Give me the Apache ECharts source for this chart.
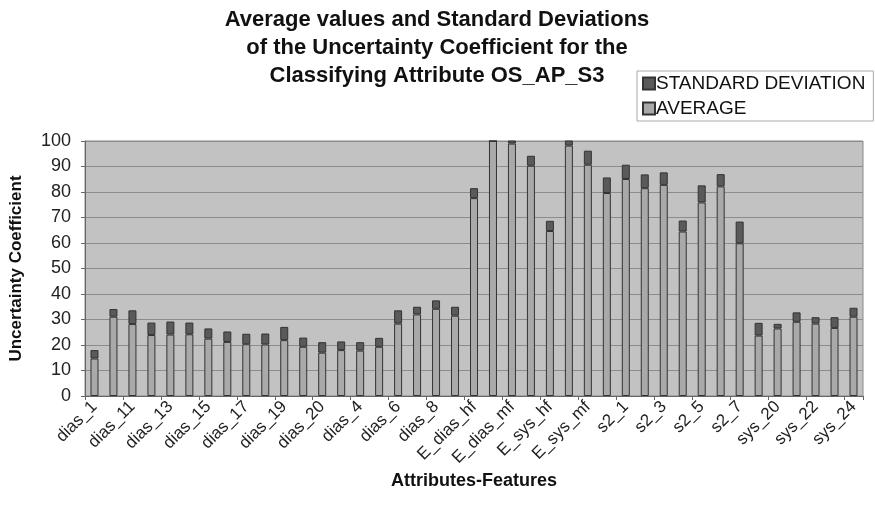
<!DOCTYPE html>
<html>
<head>
<meta charset="utf-8">
<script src="https://cdn.jsdelivr.net/npm/echarts@6/dist/echarts.min.js"></script>
<style>
  html, body { margin: 0; padding: 0; background: #fff; }
  #chart_div { width: 875px; height: 519px; }
</style>
</head>
<body>
<div id="chart_div"></div>
<script>
// attribute names (only every other one is printed on the axis)
var attrs = ['dias_1','dias_10','dias_11','dias_12','dias_13','dias_14','dias_15','dias_16','dias_17','dias_18',
             'dias_19','dias_2','dias_20','dias_3','dias_4','dias_5','dias_6','dias_7','dias_8','dias_9',
             'E_dias_hf','E_dias_lf','E_dias_mf','E_dias_vlf','E_sys_hf','E_sys_lf','E_sys_mf','E_sys_vlf',
             's2_1','s2_2','s2_3','s2_4','s2_5','s2_6','s2_7','s2_8',
             'sys_20','sys_21','sys_22','sys_23','sys_24'];

// average of the uncertainty coefficient
var avgVals = [14.7, 31.1, 28.2, 23.9, 24.1, 24.2, 22.5, 21.2, 20.3, 20.2,
               21.9, 19.3, 17.0, 18.0, 17.8, 19.3, 28.4, 32.0, 34.2, 31.5,
               77.6, 100, 99.0, 90.3, 64.7, 98.2, 90.7, 79.6,
               85.1, 81.5, 82.8, 64.5, 75.9, 82.2, 59.9, 23.7,
               26.5, 29.1, 28.4, 26.7, 31.1];

// standard deviation (stacked on top of the average)
var sdVals = [3.3, 3.0, 5.4, 4.9, 5.1, 4.6, 4.0, 4.1, 4.1, 4.3,
              5.2, 3.6, 4.1, 3.4, 3.3, 3.5, 5.2, 3.0, 3.3, 3.5,
              3.9, 0, 1.5, 3.9, 4.0, 2.5, 5.5, 6.1,
              5.6, 5.4, 4.9, 4.3, 6.7, 4.8, 8.5, 5.0,
              1.8, 3.7, 2.5, 4.2, 3.5];

var myChart = echarts.init(document.getElementById('chart_div'));

var option = {
    backgroundColor: '#ffffff',
    animation: false,
    title: {
        text: 'Average values and Standard Deviations\nof the Uncertainty Coefficient for the\nClassifying Attribute OS_AP_S3',
        left: 432,
        textAlign: 'center',
        top: 1,
        textStyle: {
            fontFamily: 'Liberation Sans',
            fontSize: 22,
            fontWeight: 'bold',
            lineHeight: 28,
            color: '#111'
        }
    },
    legend: {
        data: ['STANDARD DEVIATION', 'AVERAGE'],
        orient: 'vertical',
        left: 637,
        top: 71,
        itemWidth: 12,
        itemHeight: 12,
        itemGap: 6,
        icon: 'rect',
        borderColor: '#aaa',
        borderWidth: 1,
        padding: [3, 8, 3, 5],
        textStyle: {
            fontFamily: 'Liberation Sans',
            fontSize: 19,
            color: '#111',
            padding: [0, 0, 0, -4]
        }
    },
    grid: {
        left: 83,
        right: 12,
        top: 141,
        bottom: 123,
        show: true,
        backgroundColor: '#c2c2c2',
        borderColor: '#8a8a8a',
        borderWidth: 1
    },
    xAxis: {
        type: 'category',
        data: attrs,
        name: 'Attributes-Features',
        nameLocation: 'middle',
        nameGap: 76,
        nameTextStyle: {
            fontFamily: 'Liberation Sans',
            fontSize: 18,
            fontWeight: 'bold',
            color: '#111'
        },
        axisLine: { lineStyle: { color: '#666' } },
        axisTick: { show: true, length: 4, lineStyle: { color: '#666' } },
        axisLabel: {
            interval: 1,
            rotate: 45,
            margin: 8,
            fontFamily: 'Liberation Sans',
            fontSize: 17,
            color: '#222'
        }
    },
    yAxis: {
        type: 'value',
        min: 0,
        max: 100,
        interval: 10,
        name: 'Uncertainty Coefficient',
        nameLocation: 'middle',
        nameRotate: 90,
        nameGap: 60,
        nameTextStyle: {
            fontFamily: 'Liberation Sans',
            fontSize: 17,
            fontWeight: 'bold',
            color: '#111'
        },
        axisLine: { show: true, lineStyle: { color: '#666' } },
        axisTick: { show: true, length: 4, lineStyle: { color: '#666' } },
        axisLabel: {
            margin: 14,
            fontFamily: 'Liberation Sans',
            fontSize: 18,
            color: '#222'
        },
        splitLine: { lineStyle: { color: '#8c8c8c', width: 1 } }
    },
    series: [
        {
            name: 'AVERAGE',
            type: 'bar',
            stack: 'uc',
            barWidth: 8,
            data: avgVals,
            itemStyle: { color: '#a9a9a9', borderColor: '#333', borderWidth: 1 }
        },
        {
            name: 'STANDARD DEVIATION',
            type: 'bar',
            stack: 'uc',
            barWidth: 8,
            data: sdVals,
            itemStyle: { color: '#5a5a5a', borderColor: '#333', borderWidth: 1 }
        }
    ]
};

myChart.setOption(option);
</script>
</body>
</html>
